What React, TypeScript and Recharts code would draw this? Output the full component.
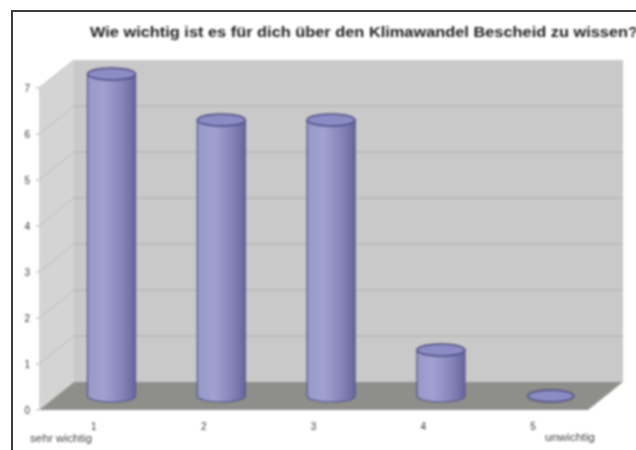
import { BarChart, Bar, XAxis, YAxis, ReferenceArea } from 'recharts';

const categories = ['1', '2', '3', '4', '5'];
const answers = [7, 6, 6, 1, 0];
const yTicks = [0, 1, 2, 3, 4, 5, 6, 7];

const title = 'Wie wichtig ist es für dich über den Klimawandel Bescheid zu wissen?';
const lowLabel = 'sehr wichtig';
const highLabel = 'unwichtig';

const data = categories.map((c, i) => ({ name: c, value: answers[i] }));

// 3d depth of the box, the bars sit half way in
const DX = 35;
const DY = 28;
const RY = 6;

function Walls({ x, y, width, height }: any) {
  const bottom = y + height;
  const right = x + width;
  return (
    <g>
      <polygon points={`${x},${y} ${x + DX},${y - DY} ${x + DX},${bottom - DY} ${x},${bottom}`} fill="#d4d4d4" />
      <rect x={x + DX} y={y - DY} width={width} height={height} fill="#c9c9c9" />
      <polygon points={`${x},${bottom} ${x + DX},${bottom - DY} ${right + DX},${bottom - DY} ${right},${bottom}`} fill="#8e8e8b" />
      {yTicks.filter(t => t > 0).map(t => {
        const ty = bottom - (t / 7) * height;
        return (
          <g key={t}>
            <line x1={x} y1={ty} x2={x + DX} y2={ty - DY} stroke="#bcbcbc" />
            {t < 7 && <line x1={x + DX} y1={ty - DY} x2={right + DX} y2={ty - DY} stroke="#aeaeac" />}
          </g>
        );
      })}
      <text x={90} y={37} fontFamily="Liberation Sans" fontWeight="bold" fontSize={14} textLength={548} lengthAdjust="spacingAndGlyphs" fill="#1c1c1c">{title}</text>
      <text x={30} y={442} fontFamily="Liberation Sans" fontSize={10} textLength={62} lengthAdjust="spacingAndGlyphs" fill="#444">{lowLabel}</text>
      <text x={545} y={441} fontFamily="Liberation Sans" fontSize={10} textLength={50} lengthAdjust="spacingAndGlyphs" fill="#444">{highLabel}</text>
    </g>
  );
}

function Cylinder({ x, y, width, height }: any) {
  const cx = x + width / 2 + DX / 2;
  const top = y - DY / 2;
  const base = top + height;
  const rx = width / 2;
  return (
    <g>
      {height > 0 && (
        <path
          d={`M${cx - rx},${top} L${cx - rx},${base} A${rx},${RY} 0 0 0 ${cx + rx},${base} L${cx + rx},${top} Z`}
          fill="url(#cyl)"
          stroke="#55558a"
          strokeWidth={1.2}
        />
      )}
      <ellipse cx={cx} cy={top} rx={height > 0 ? rx : rx - 1} ry={RY} fill="#8c8cc4" stroke="#4c4c80" strokeWidth={1.4} />
    </g>
  );
}

export default function App() {
  return (
    <div style={{ position: 'absolute', left: 0, top: 0, width: 636, height: 450, background: '#fff', overflow: 'hidden' }}>
      <div style={{ position: 'absolute', left: 11, top: 10, width: 640, height: 460, borderLeft: '2.5px solid #3c3c38', borderTop: '2.5px solid #3c3c38' }} />
      <div style={{ position: 'absolute', left: 0, top: 0, filter: 'blur(0.9px)' }}>
        <BarChart width={636} height={450} data={data} margin={{ top: 88, right: 48, bottom: 0, left: 0 }} barSize={48}>
          <defs>
            <linearGradient id="cyl" x1="0" y1="0" x2="1" y2="0">
              <stop offset="0" stopColor="#9a9ac8" />
              <stop offset="0.35" stopColor="#a0a0d2" />
              <stop offset="0.75" stopColor="#8282b8" />
              <stop offset="1" stopColor="#66669c" />
            </linearGradient>
          </defs>
          <ReferenceArea y1={0} y2={7} shape={Walls} stroke="none" />
          <XAxis dataKey="name" height={40} axisLine={false} tickLine={false} tick={{ fontSize: 10, fill: '#333', fontFamily: 'Liberation Sans' }} tickMargin={7} />
          <YAxis width={39} domain={[0, 7]} ticks={yTicks} axisLine={false} tickSize={3} tickMargin={6} tickLine={{ stroke: '#aaa' }} tick={{ fontSize: 10, fill: '#333', fontFamily: 'Liberation Sans' }} />
          <Bar dataKey="value" shape={Cylinder} isAnimationActive={false} />
        </BarChart>
      </div>
    </div>
  );
}
